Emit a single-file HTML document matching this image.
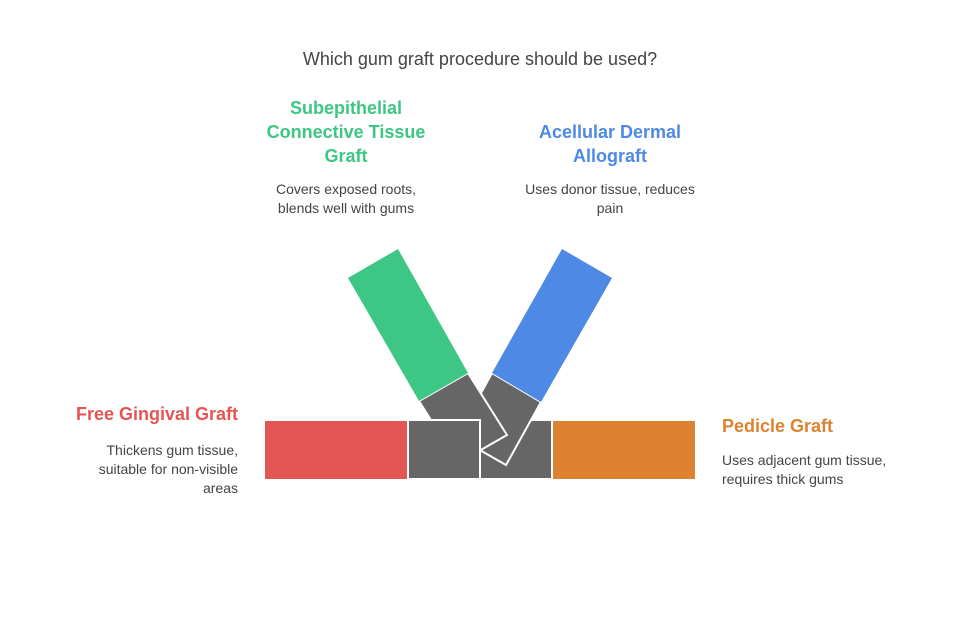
<!DOCTYPE html>
<html><head><style>
body{margin:0;background:#fff;font-family:"Liberation Sans",sans-serif;}
.t{position:absolute;font-weight:bold;font-size:18px;line-height:24px}
.d{position:absolute;font-size:14px;line-height:19px;color:#444}
</style></head><body>
<div style="position:relative;width:960px;height:636px;overflow:hidden">
<div style="position:absolute;left:0;width:960px;top:49px;text-align:center;font-size:18px;color:#444">Which gum graft procedure should be used?</div>
<div class="t" style="left:246px;width:200px;top:96px;text-align:center;color:#3dc684">Subepithelial Connective Tissue Graft</div>
<div class="d" style="left:261px;width:170px;top:180px;text-align:center">Covers exposed roots, blends well with gums</div>
<div class="t" style="left:510px;width:200px;top:120px;text-align:center;color:#4e89e6">Acellular Dermal Allograft</div>
<div class="d" style="left:515px;width:190px;top:180px;text-align:center">Uses donor tissue, reduces pain</div>
<div class="t" style="left:38px;width:200px;top:402px;text-align:right;color:#e45654">Free Gingival Graft</div>
<div class="d" style="left:68px;width:170px;top:441px;text-align:right">Thickens gum tissue, suitable for non-visible areas</div>
<div class="t" style="left:722px;width:220px;top:414px;color:#dd8230">Pedicle Graft</div>
<div class="d" style="left:722px;width:185px;top:451px">Uses adjacent gum tissue, requires thick gums</div>
<svg width="960" height="636" style="position:absolute;left:0;top:0">
<g stroke="#fff" stroke-width="2" stroke-linejoin="miter">
<rect x="480" y="420" width="72" height="59" fill="#666"/>
<polygon points="492,373 541,402 506,465 457,437" fill="#666"/>
<polygon points="419,401 468,373 507,435 458,463" fill="#666"/>
<rect x="408" y="420" width="72" height="59" fill="#666"/>
</g>
<rect x="265" y="421" width="142" height="58" fill="#e45654"/>
<rect x="553" y="421" width="142" height="58" fill="#dd8230"/>
<polygon points="348,278 398,249 468,373 419,401" fill="#3dc684"/>
<polygon points="562,249 612,278 541,402 492,373" fill="#4e89e6"/>
</svg>
</div>
</body></html>
